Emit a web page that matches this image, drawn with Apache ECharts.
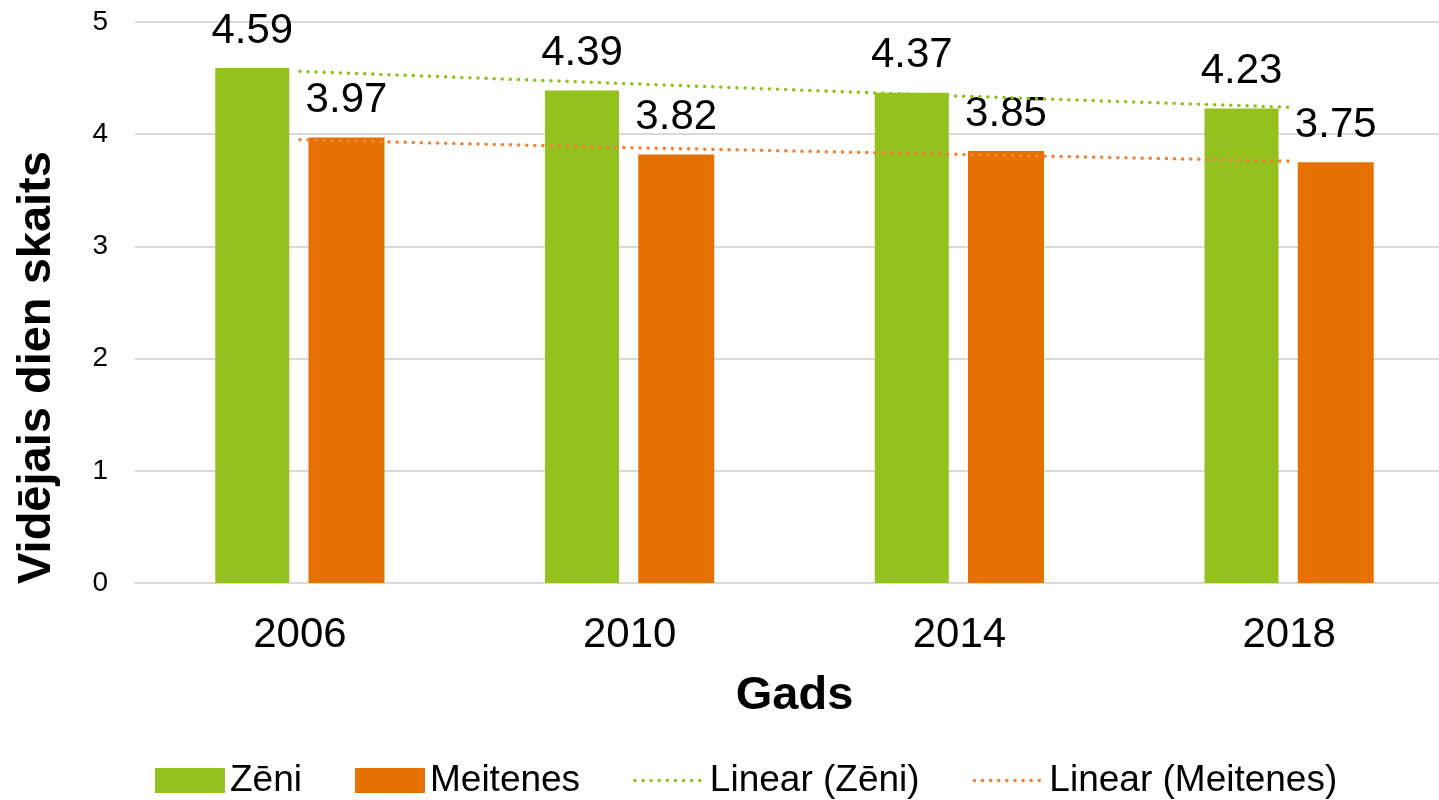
<!DOCTYPE html>
<html>
<head>
<meta charset="utf-8">
<script src="https://cdn.jsdelivr.net/npm/echarts@6/dist/echarts.min.js"></script>
<style>
  html, body { margin: 0; padding: 0; background: #fff; overflow: hidden; }
  /* the plot runs a little past the right edge of the window */
  #chart { width: 1454px; height: 800px; }
</style>
</head>
<body>
<div id="chart"></div>
<script>
// Survey years on the category axis
const years = ['2006', '2010', '2014', '2018'];
// Average number of days, boys and girls
const boys = [4.59, 4.39, 4.37, 4.23];
const girls = [3.97, 3.82, 3.85, 3.75];
// Linear trend values at each year
const boysTrend = [4.56, 4.45, 4.34, 4.24];
const girlsTrend = [3.95, 3.88, 3.82, 3.76];
// Value axis ticks
const yTicks = [0, 1, 2, 3, 4, 5];

const FONT = '"Liberation Sans", Arial, sans-serif';
const GREEN = '#95C11F';
const ORANGE = '#E57200';
const GREEN_TREND = '#8DC21F';
const ORANGE_TREND = '#F28236';

const chart = echarts.init(document.getElementById('chart'), null, { renderer: 'canvas' });

const barLabel = {
  show: true,
  position: 'top',
  distance: 16,
  color: '#000',
  fontFamily: FONT,
  fontSize: 42
};

// round dots for the trend lines
const dotted = (color) => ({ color: color, width: 3.5, type: [0.1, 8], cap: 'round' });

chart.setOption({
  animation: false,
  textStyle: { fontFamily: FONT },
  grid: { left: 135, right: 0, top: 22, bottom: 217, containLabel: false },
  legend: {
    bottom: -4,
    left: 150,
    itemWidth: 70,
    itemHeight: 25,
    itemGap: 53,
    textStyle: { fontFamily: FONT, fontSize: 37, color: '#000' },
    data: [
      { name: 'Zēni', icon: 'rect' },
      { name: 'Meitenes', icon: 'rect' },
      { name: 'Linear (Zēni)', itemStyle: { opacity: 0 }, lineStyle: dotted(GREEN_TREND) },
      { name: 'Linear (Meitenes)', itemStyle: { opacity: 0 }, lineStyle: dotted(ORANGE_TREND) }
    ]
  },
  xAxis: {
    type: 'category',
    data: years,
    name: 'Gads',
    nameLocation: 'middle',
    nameGap: 90,
    nameTextStyle: { fontFamily: FONT, fontSize: 47, fontWeight: 'bold', color: '#000' },
    axisLine: { show: true, lineStyle: { color: '#d9d9d9', width: 2 } },
    axisTick: { show: false },
    axisLabel: { color: '#000', fontFamily: FONT, fontSize: 42, margin: 31 }
  },
  yAxis: {
    type: 'value',
    min: yTicks[0],
    max: yTicks[yTicks.length - 1],
    interval: 1,
    name: 'Vidējais dien skaits',
    nameLocation: 'middle',
    nameGap: 74,
    nameTextStyle: {
      fontFamily: FONT, fontSize: 47, fontWeight: 'bold', color: '#000',
      padding: [0, 130, 0, 0]
    },
    axisLine: { show: false },
    axisTick: { show: false },
    axisLabel: { color: '#000', fontFamily: FONT, fontSize: 28, margin: 27 },
    splitLine: { lineStyle: { color: '#d9d9d9', width: 2 } }
  },
  series: [
    {
      name: 'Zēni',
      type: 'bar',
      data: boys,
      barWidth: 74,
      barGap: '26%',
      itemStyle: { color: GREEN },
      label: barLabel,
      z: 2
    },
    {
      name: 'Meitenes',
      type: 'bar',
      data: girls,
      barWidth: 76,
      itemStyle: { color: ORANGE },
      label: barLabel,
      z: 2
    },
    {
      name: 'Linear (Zēni)',
      type: 'line',
      data: boysTrend,
      symbol: 'none',
      silent: true,
      lineStyle: dotted(GREEN_TREND),
      itemStyle: { color: GREEN_TREND },
      z: 3
    },
    {
      name: 'Linear (Meitenes)',
      type: 'line',
      data: girlsTrend,
      symbol: 'none',
      silent: true,
      lineStyle: dotted(ORANGE_TREND),
      itemStyle: { color: ORANGE_TREND },
      z: 3
    }
  ]
});
</script>
</body>
</html>
